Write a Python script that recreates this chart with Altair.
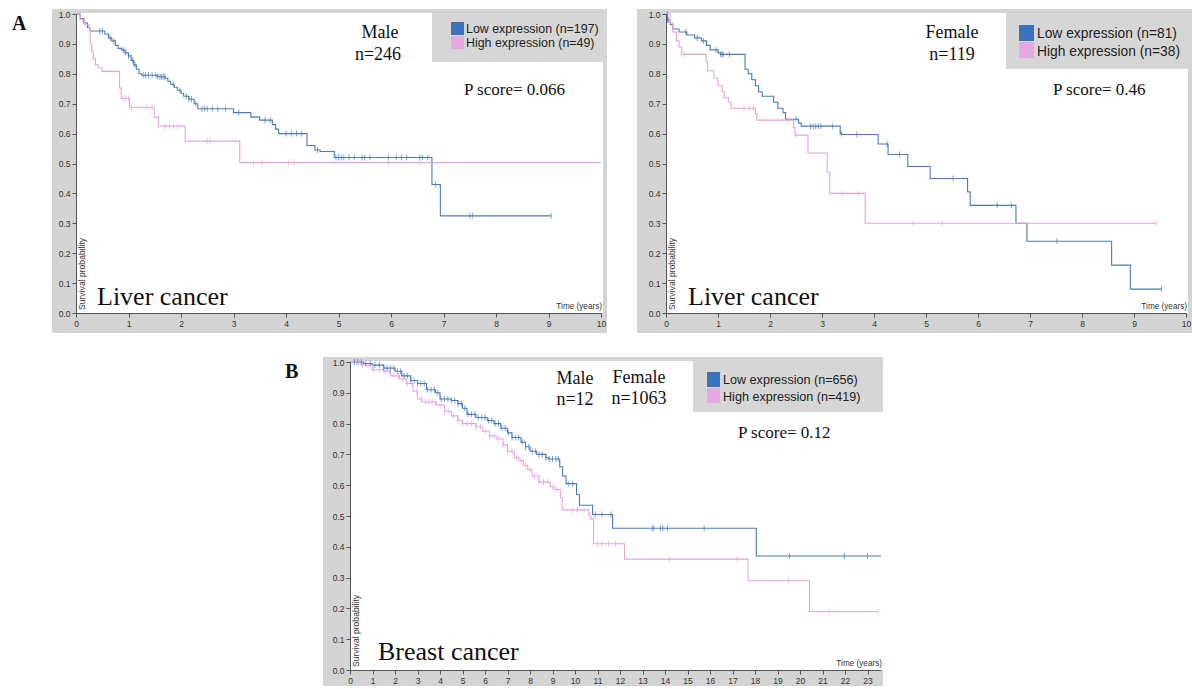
import altair as alt
import pandas as pd

# ---------------- colours / fonts ----------------
BLUE_LINE = "#4a7ab8"
PINK_LINE = "#e2a6dc"
BLUE_SW = "#3a72c0"
PINK_SW = "#e6a8e0"
FRAME = "#d4d4d4"
LEGBOX = "#d6d6d6"
SANS = "Liberation Sans"
SERIF = "Liberation Serif"

# ---------------- data ----------------
# A, male liver cancer : low expression
a1_low_t = [0, 0.08, 0.15, 0.22, 0.27, 0.55, 0.62, 0.68, 0.75, 0.8, 0.87, 0.93, 1.0, 1.05, 1.1, 1.15, 1.2,
            1.25, 1.55, 1.7, 1.75, 1.8, 1.87, 1.93, 2.0, 2.05, 2.15, 2.25, 2.32, 3.0, 3.33, 3.5, 3.74, 3.8,
            3.86, 4.4, 4.55, 4.65, 4.92, 6.78, 6.94, 9.05]
a1_low_s = [1.0, 0.985, 0.97, 0.955, 0.943, 0.933, 0.92, 0.91, 0.895, 0.885, 0.88, 0.87, 0.86, 0.845, 0.83,
            0.815, 0.80, 0.795, 0.79, 0.785, 0.775, 0.765, 0.755, 0.745, 0.735, 0.725, 0.715, 0.70, 0.683,
            0.67, 0.655, 0.645, 0.63, 0.615, 0.60, 0.56, 0.545, 0.54, 0.52, 0.43, 0.325, 0.325]
a1_low_c = [0.45, 0.5, 0.65, 0.72, 0.9, 0.95, 1.0, 1.08, 1.12, 1.28, 1.32, 1.38, 1.45, 1.52, 1.56, 1.6,
            1.63, 1.66, 1.69, 1.85, 1.98, 2.1, 2.15, 2.2, 2.28, 2.4, 2.45, 2.5, 2.6, 2.7, 2.85, 3.1, 3.6,
            3.7, 4.0, 4.1, 4.2, 4.3, 4.6, 4.95, 5.0, 5.05, 5.1, 5.2, 5.3, 5.45, 5.5, 5.6, 5.95, 6.1, 6.2,
            6.3, 6.55, 6.6, 6.7, 6.85, 7.5, 7.55, 9.05]
# A, male liver cancer : high expression
a1_high_t = [0, 0.08, 0.17, 0.25, 0.27, 0.3, 0.33, 0.37, 0.42, 0.5, 0.83, 0.86, 1.02, 1.49, 1.57, 2.08,
             3.12, 10.0]
a1_high_s = [1.0, 0.98, 0.965, 0.955, 0.90, 0.875, 0.85, 0.83, 0.82, 0.808, 0.752, 0.718, 0.688, 0.655,
             0.625, 0.575, 0.503, 0.503]
a1_high_c = [0.9, 0.95, 1.0, 1.05, 1.35, 1.45, 1.7, 1.78, 1.86, 1.94, 2.5, 2.55, 3.38, 3.55, 4.05, 4.15,
             5.95, 6.55]

# A, female liver cancer : low expression
a2_low_t = [0, 0.03, 0.08, 0.13, 0.25, 0.4, 0.55, 0.68, 0.78, 0.85, 1.0, 1.05, 1.52, 1.58, 1.65, 1.72,
            1.78, 1.85, 2.07, 2.15, 2.25, 2.3, 2.55, 2.6, 3.35, 3.38, 4.08, 4.27, 4.65, 5.08, 5.8, 5.85,
            6.73, 6.94, 8.57, 8.93, 9.53]
a2_low_s = [1.0, 0.98, 0.965, 0.95, 0.94, 0.93, 0.92, 0.91, 0.895, 0.88, 0.87, 0.865, 0.815, 0.80, 0.78,
            0.76, 0.74, 0.725, 0.705, 0.685, 0.67, 0.648, 0.635, 0.625, 0.60, 0.597, 0.565, 0.53, 0.49,
            0.45, 0.405, 0.36, 0.30, 0.24, 0.16, 0.08, 0.08]
a2_low_c = [0.02, 0.03, 0.04, 0.38, 0.6, 0.72, 0.96, 1.05, 1.08, 1.1, 1.22, 2.5, 2.78, 2.83, 2.88, 2.93,
            2.98, 3.2, 3.37, 3.67, 4.25, 4.49, 5.52, 6.37, 6.64, 7.52, 9.53]
# A, female liver cancer : high expression
a2_high_t = [0, 0.08, 0.13, 0.2, 0.25, 0.3, 0.77, 0.8, 0.92, 1.0, 1.08, 1.12, 1.2, 1.25, 1.72, 1.75,
             2.45, 2.48, 2.73, 3.1, 3.15, 3.83, 9.42]
a2_high_s = [1.0, 0.97, 0.94, 0.91, 0.89, 0.865, 0.84, 0.81, 0.785, 0.76, 0.74, 0.72, 0.705, 0.685, 0.665,
             0.645, 0.62, 0.595, 0.535, 0.47, 0.40, 0.30, 0.30]
a2_high_c = [0.35, 1.5, 1.6, 1.68, 1.86, 2.34, 2.5, 3.39, 3.7, 4.75, 5.31, 9.42]

# B, breast cancer : low expression
b_low_t = [0, 0.6, 1.0, 1.5, 2.0, 2.3, 2.7, 3.0, 3.4, 3.8, 4.0, 4.5, 4.8, 5.0, 5.2, 5.6, 6.1, 6.4, 6.7,
           7.0, 7.2, 7.6, 7.8, 8.0, 8.3, 8.7, 8.8, 9.32, 9.45, 9.6, 10.07, 10.2, 10.78, 11.67, 18.06, 23.6]
b_low_s = [1.0, 0.995, 0.99, 0.98, 0.97, 0.955, 0.94, 0.93, 0.91, 0.90, 0.88, 0.875, 0.865, 0.85, 0.83,
           0.82, 0.81, 0.80, 0.785, 0.77, 0.755, 0.74, 0.725, 0.71, 0.70, 0.69, 0.685, 0.66, 0.63, 0.605,
           0.57, 0.535, 0.505, 0.46, 0.37, 0.37]
b_low_c = [0.2, 0.35, 0.5, 0.7, 0.9, 1.1, 1.3, 1.5, 1.65, 1.8, 1.95, 2.1, 2.25, 2.4, 2.55, 2.7, 2.85, 3.0,
           3.15, 3.3, 3.45, 3.6, 3.75, 3.9, 4.05, 4.2, 4.35, 4.5, 4.65, 4.8, 4.95, 5.1, 5.25, 5.4, 5.55,
           5.7, 5.85, 6.0, 6.15, 6.3, 6.45, 6.6, 6.75, 6.9, 7.05, 7.2, 7.35, 7.5, 7.65, 7.8, 7.95, 8.1,
           8.25, 8.4, 8.55, 8.7, 8.85, 9.0, 9.15, 9.25, 9.7, 9.9, 10.9, 11.2, 11.6, 13.43, 13.5, 13.8,
           13.9, 14.11, 15.74, 19.53, 21.97, 23.0]
# B, breast cancer : high expression
b_high_t = [0, 0.5, 1.0, 1.5, 1.8, 2.2, 2.5, 2.8, 3.0, 3.2, 3.85, 4.2, 4.5, 4.8, 5.0, 5.6, 5.9, 6.2, 6.5,
            6.8, 7.0, 7.3, 7.5, 7.7, 7.9, 8.1, 8.4, 8.9, 9.1, 9.35, 9.43, 10.62, 10.7, 10.83, 12.2, 17.69,
            20.42, 23.46]
b_high_s = [1.0, 0.99, 0.975, 0.97, 0.955, 0.945, 0.93, 0.905, 0.88, 0.87, 0.86, 0.84, 0.825, 0.81, 0.80,
            0.79, 0.775, 0.76, 0.75, 0.73, 0.71, 0.69, 0.68, 0.665, 0.65, 0.63, 0.61, 0.595, 0.585, 0.56,
            0.52, 0.50, 0.49, 0.41, 0.36, 0.29, 0.19, 0.19]
b_high_c = [0.3, 0.55, 0.8, 1.05, 1.3, 1.55, 1.75, 1.95, 2.15, 2.35, 2.55, 2.75, 2.95, 3.15, 3.35, 3.5,
            3.65, 3.8, 4.0, 4.2, 4.4, 4.6, 4.8, 5.0, 5.2, 5.4, 5.6, 5.8, 6.0, 6.2, 6.4, 6.6, 6.8, 7.0,
            7.2, 7.4, 7.6, 7.8, 8.0, 8.2, 8.4, 8.6, 8.8, 9.0, 9.2, 9.9, 10.1, 10.4, 11.0, 11.2, 11.5,
            11.8, 14.2, 17.2, 19.48, 21.3, 23.46]

# ---------------- labels ----------------
Y_TICKS = [0.0, 0.1, 0.2, 0.3, 0.4, 0.5, 0.6, 0.7, 0.8, 0.9, 1.0]
A_X_TICKS = list(range(0, 11))
B_X_TICKS = list(range(0, 24))
a1_legend = ["Low expression (n=197)", "High expression (n=49)"]
a2_legend = ["Low expression (n=81)", "High expression (n=38)"]
b_legend = ["Low expression (n=656)", "High expression (n=419)"]

for t, s in [(a1_low_t, a1_low_s), (a1_high_t, a1_high_s), (a2_low_t, a2_low_s),
             (a2_high_t, a2_high_s), (b_low_t, b_low_s), (b_high_t, b_high_s)]:
    assert len(t) == len(s)


def lookup(ts, ss, c):
    v = ss[0]
    for ti, si in zip(ts, ss):
        if ti <= c + 1e-9:
            v = si
    return v


def curve_frames(low_t, low_s, low_c, high_t, high_s, high_c):
    lines = pd.concat([
        pd.DataFrame({"t": low_t, "s": low_s, "g": "low"}),
        pd.DataFrame({"t": high_t, "s": high_s, "g": "high"}),
    ])
    cens = pd.concat([
        pd.DataFrame({"t": low_c, "s": [lookup(low_t, low_s, c) for c in low_c], "g": "low"}),
        pd.DataFrame({"t": high_c, "s": [lookup(high_t, high_s, c) for c in high_c], "g": "high"}),
    ])
    return lines, cens


DUMMY = pd.DataFrame({"d": [0]})


def rect(x, x2, y, y2, color, opacity=1.0):
    return alt.Chart(DUMMY).mark_rect(color=color, opacity=opacity).encode(
        x=alt.value(x), x2=alt.value(x2), y=alt.value(y), y2=alt.value(y2))


def text(label, x, y, size, font=SERIF, align="left", baseline="alphabetic", weight="normal",
         angle=0, color="#111"):
    return alt.Chart(DUMMY).mark_text(
        text=label, font=font, fontSize=size, align=align, baseline=baseline,
        fontWeight=weight, angle=angle, color=color).encode(x=alt.value(x), y=alt.value(y))


def panel(w, h, xmax, xticks, lines, cens, frame, legend, leg_labels, texts, anchor):
    xs = alt.Scale(domain=[0, xmax], nice=False, zero=True)
    ys = alt.Scale(domain=[0, 1], nice=False)
    common = dict(title=None, grid=False, tickSize=4, labelPadding=2, labelFontSize=8.5,
                  labelFont=SANS, labelColor="#333", domainColor="#555", tickColor="#555",
                  labelFlush=False, zindex=1, labelOverlap=False)
    xax = alt.Axis(values=xticks, format="d", **common)
    yax = alt.Axis(values=Y_TICKS, format=".1f", **common)
    col = alt.Color("g:N", scale=alt.Scale(domain=["low", "high"], range=[BLUE_LINE, PINK_LINE]),
                    legend=None)
    enc = dict(x=alt.X("t:Q", scale=xs, axis=xax), y=alt.Y("s:Q", scale=ys, axis=yax), color=col)

    fx1, fx2, fy1, fy2 = frame
    layers = [
        rect(fx1, fx2, fy1, fy2, FRAME),
        rect(0, w + 2, -1, h, "white"),
    ]
    bx1, by1, by2, sx, sw, sy, sh, tx, ty, tsize = legend
    layers += [
        rect(bx1, fx2, by1, by2, LEGBOX),
        rect(sx, sx + sw, sy, sy + sh, BLUE_SW),
        rect(sx, sx + sw, sy + sh + 1, sy + 2 * sh + 1, PINK_SW),
        text(leg_labels[0], tx, ty[0], tsize, font=SANS, color="#222"),
        text(leg_labels[1], tx, ty[1], tsize, font=SANS, color="#222"),
    ]
    layers += [
        alt.Chart(lines).mark_line(interpolate="step-after", strokeWidth=1.1).encode(**enc),
        alt.Chart(cens).mark_tick(orient="vertical", size=6, thickness=1).encode(**enc),
    ]
    for t in texts:
        layers.append(text(*t[:4], **(t[4] if len(t) > 4 else {})))
    layers += [
        text("Survival probability", 2, h - 3, 8.6, font=SANS, align="left", baseline="top",
             angle=270, color="#333"),
        text("Time (years)", w + 1, h - 2, 8.2, font=SANS, align="right", baseline="bottom",
             color="#333"),
    ]
    if anchor is not None:
        layers.append(rect(anchor[0], anchor[0] + 1, anchor[1], anchor[1] + 1, "white", opacity=0))
    return alt.layer(*layers).properties(width=w, height=h)


# ---------------- panels ----------------
W1, H1 = 525, 299
l1, c1 = curve_frames(a1_low_t, a1_low_s, a1_low_c, a1_high_t, a1_high_s, a1_high_c)
p1 = panel(
    W1, H1, 10, A_X_TICKS, l1, c1,
    frame=(-24, W1 + 6, -5, H1 + 20),
    legend=(356, -1, 48, 375, 13, 8, 13, 390, (19, 33), 12.4),
    leg_labels=a1_legend,
    texts=[
        ("A", -64, 16, 20, {"weight": "bold"}),
        ("Male", 304, 24, 18, {"align": "center"}),
        ("n=246", 302, 46, 18, {"align": "center"}),
        ("P score= 0.066", 388, 81, 17),
        ("Liver cancer", 21, 291, 26),
    ],
    anchor=(-76, -14),
)

W2, H2 = 520, 299
l2, c2 = curve_frames(a2_low_t, a2_low_s, a2_low_c, a2_high_t, a2_high_s, a2_high_c)
p2 = panel(
    W2, H2, 10, A_X_TICKS, l2, c2,
    frame=(-29, W2 + 6, -5, H2 + 20),
    legend=(340, -1, 55, 353, 15, 11, 16, 371, (24, 42), 13.8),
    leg_labels=a2_legend,
    texts=[
        ("Female", 286, 24, 18, {"align": "center"}),
        ("n=119", 286, 46, 18, {"align": "center"}),
        ("P score= 0.46", 387, 81, 17),
        ("Liver cancer", 22, 291, 26),
    ],
    anchor=(-29, -14),
)

W3, H3 = 531, 308
l3, c3 = curve_frames(b_low_t, b_low_s, b_low_c, b_high_t, b_high_s, b_high_c)
p3 = panel(
    W3, H3, 23.6, B_X_TICKS, l3, c3,
    frame=(-27, W3 + 2, -5, H3 + 16),
    legend=(343, -1, 50, 357, 13, 10, 15, 373, (22, 39), 12.6),
    leg_labels=b_legend,
    texts=[
        ("B", -65, 16, 20, {"weight": "bold"}),
        ("Male", 225, 22, 18, {"align": "center"}),
        ("n=12", 225, 43, 18, {"align": "center"}),
        ("Female", 289, 21, 18, {"align": "center"}),
        ("n=1063", 289, 42, 18, {"align": "center"}),
        ("P score= 0.12", 388, 76, 17),
        ("Breast cancer", 28, 298, 26),
    ],
    anchor=(-80, -5),
)

# invisible spacer that pushes panel B to the right
spacer = alt.Chart(DUMMY).mark_rect(opacity=0).encode(
    x=alt.value(0), x2=alt.value(1), y=alt.value(0), y2=alt.value(1)
).properties(width=194, height=1)

chart = alt.vconcat(
    alt.hconcat(p1, p2, spacing=30).resolve_scale(x="independent", y="independent"),
    alt.hconcat(spacer, p3, spacing=0).resolve_scale(x="independent", y="independent"),
    spacing=24,
).resolve_scale(x="independent", y="independent").properties(
    padding=0, background="white"
).configure_view(stroke=None)

chart.save("out.html", embed_options={"renderer": "svg", "actions": False})
